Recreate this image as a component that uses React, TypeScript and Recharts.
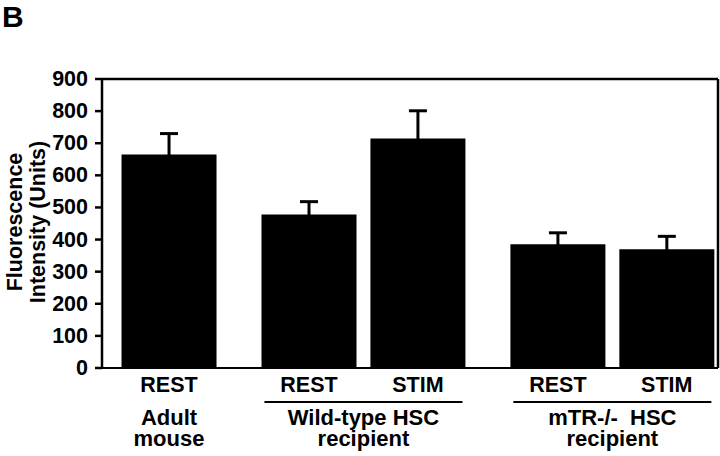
import React from 'react';
import {
  BarChart,
  Bar,
  XAxis,
  YAxis,
  ErrorBar,
  ReferenceLine,
} from 'recharts';

const categories = ['REST', 'REST', 'STIM', 'REST', 'STIM'];
const groupOf = [0, 1, 1, 2, 2];
const values = [665, 478, 715, 385, 370];
const errors = [65, 40, 86, 36, 40];

const groupLabels = [
  ['Adult', 'mouse'],
  ['Wild-type HSC', 'recipient'],
  ['mTR-/-  HSC', 'recipient'],
];
const groupUnderlined = [false, true, true];

const yTicks = [0, 100, 200, 300, 400, 500, 600, 700, 800, 900];

const FONT = '"Liberation Sans", Arial, Helvetica, sans-serif';
const FS = 21.5;
const GROUP_GAP = 0.285;
const X_DOMAIN: [number, number] = [-0.615, 5.04];

const data = values.map((v, i) => ({
  pos: i + groupOf[i] * GROUP_GAP,
  label: categories[i],
  value: v,
  err: errors[i],
}));

const groupCenters = groupLabels.map((_, g) => {
  const members = data.filter((_, i) => groupOf[i] === g);
  return members.reduce((s, d) => s + d.pos, 0) / members.length;
});

const textStyle = {
  fontFamily: FONT,
  fontWeight: 'bold' as const,
  fontSize: FS,
  fill: '#000',
};

const CategoryTick = (props: any) => {
  const { x, y, index } = props;
  return (
    <text x={x} y={y + 24} textAnchor="middle" style={textStyle}>
      {categories[index]}
    </text>
  );
};

const ValueTick = (props: any) => {
  const { x, y, payload } = props;
  return (
    <text x={x + 1} y={y + 7} textAnchor="end" style={textStyle}>
      {payload.value}
    </text>
  );
};

const GroupTick = (props: any) => {
  const { x, y, index } = props;
  const lines = groupLabels[index];
  return (
    <g>
      {groupUnderlined[index] && (
        <line x1={x - 99} x2={x + 99} y1={y + 4} y2={y + 4} stroke="#000" strokeWidth={2} />
      )}
      {lines.map((t, k) => (
        <text
          key={k}
          x={x}
          y={y + 27 + k * 21}
          textAnchor="middle"
          style={{ ...textStyle, fontSize: 22, whiteSpace: 'pre' }}
        >
          {t}
        </text>
      ))}
    </g>
  );
};

export default function App() {
  return (
    <div style={{ position: 'absolute', left: 0, top: 0, width: 720, height: 456, background: '#fff' }}>
      <BarChart
        width={720}
        height={456}
        data={data}
        margin={{ top: 79, right: 2, bottom: 0, left: 42 }}
      >
        <text x={2} y={27} style={{ ...textStyle, fontSize: 30 }}>
          B
        </text>
        <text transform="translate(22,222) rotate(-90)" textAnchor="middle" style={textStyle}>
          Fluorescence
        </text>
        <text transform="translate(45,222) rotate(-90)" textAnchor="middle" style={textStyle}>
          Intensity (Units)
        </text>
        <XAxis
          dataKey="pos"
          type="number"
          domain={X_DOMAIN}
          ticks={data.map((d) => d.pos)}
          height={30}
          tickSize={0}
          tickMargin={0}
          axisLine={{ stroke: '#000', strokeWidth: 2 }}
          tickLine={false}
          tick={<CategoryTick />}
          interval={0}
          allowDataOverflow
        />
        <XAxis
          xAxisId="group"
          dataKey="pos"
          type="number"
          domain={X_DOMAIN}
          ticks={groupCenters}
          height={58}
          tickSize={0}
          tickMargin={0}
          axisLine={false}
          tickLine={false}
          tick={<GroupTick />}
          interval={0}
          allowDataOverflow
        />
        <YAxis
          width={60}
          domain={[0, 900]}
          ticks={yTicks}
          interval={0}
          tickSize={7}
          tickMargin={8}
          axisLine={{ stroke: '#000', strokeWidth: 2.5 }}
          tickLine={{ stroke: '#000', strokeWidth: 2.5 }}
          tick={<ValueTick />}
        />
        <ReferenceLine y={900} stroke="#000" strokeWidth={2.5} ifOverflow="visible" />
        <ReferenceLine x={X_DOMAIN[1]} stroke="#000" strokeWidth={2.5} ifOverflow="visible" />
        <Bar dataKey="value" fill="#000" barSize={95} isAnimationActive={false}>
          <ErrorBar dataKey="err" direction="y" width={9} stroke="#000" strokeWidth={3} isAnimationActive={false} />
        </Bar>
      </BarChart>
    </div>
  );
}
